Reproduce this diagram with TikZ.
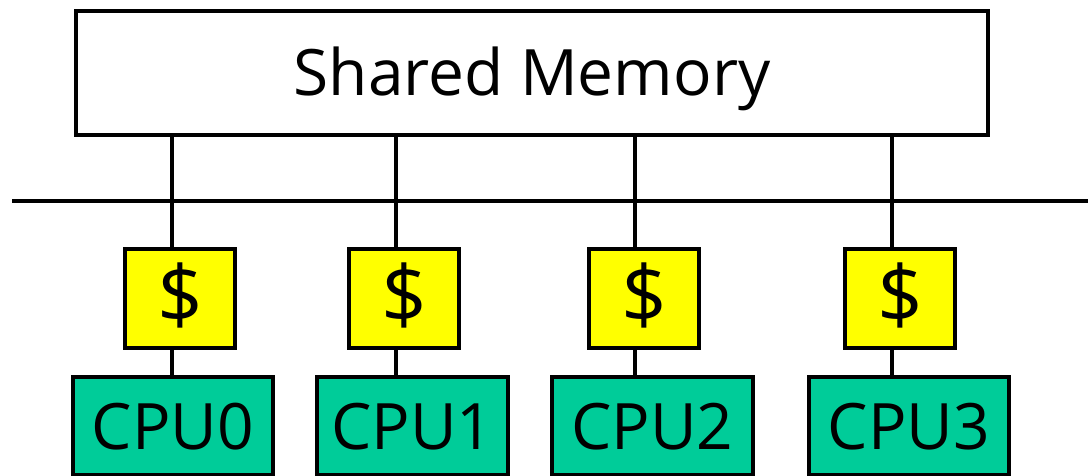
\documentclass[tikz,border=0pt]{standalone}
\usepackage{fontspec}
\setmainfont{Open Sans}
\definecolor{cachey}{HTML}{FFFF00}
\definecolor{cpug}{HTML}{00CC99}
\begin{document}
\begin{tikzpicture}[x=1pt,y=-1pt,
  every node/.style={inner sep=0pt, outer sep=0pt, line width=4.5pt, draw=black,
    font=\fontsize{64}{70}\selectfont, text height=46pt, text depth=0pt},
  membox/.style={fill=white, minimum width=912pt, minimum height=124pt},
  cachebox/.style={fill=cachey, minimum width=110pt, minimum height=99pt,
    font=\fontsize{80}{84}\selectfont, text height=50pt},
  cpubox/.style={fill=cpug, minimum height=98pt},
  wire/.style={line width=4.5pt}]
\clip (0,0) rectangle (1088,476);
\fill[white] (0,0) rectangle (1088,476);
\node[membox] (mem) at (532,73) {Shared Memory};
\coordinate (busL) at (12,201);
\coordinate (busR) at (1088,201);
\draw[wire] (busL) -- (busR);
\node[cachebox] (c0) at (180,298.5) {\$};
\node[cachebox] (c1) at (404,298.5) {\$};
\node[cachebox] (c2) at (644,298.5) {\$};
\node[cachebox] (c3) at (900,298.5) {\$};
\node[cpubox, minimum width=200pt] (p0) at (173,426) {CPU0};
\node[cpubox, minimum width=191pt] (p1) at (412.5,426) {CPU1};
\node[cpubox, minimum width=201pt] (p2) at (652.5,426) {CPU2};
\node[cpubox, minimum width=200pt] (p3) at (909,426) {CPU3};
\coordinate (v0) at (172,0);
\coordinate (v1) at (396,0);
\coordinate (v2) at (635,0);
\coordinate (v3) at (892,0);
\foreach \i in {0,1,2,3}{
  \draw[wire] (mem.south -| v\i) -- (c\i.north -| v\i);
  \draw[wire] (c\i.south -| v\i) -- (p\i.north -| v\i);
}
\end{tikzpicture}
\end{document}
